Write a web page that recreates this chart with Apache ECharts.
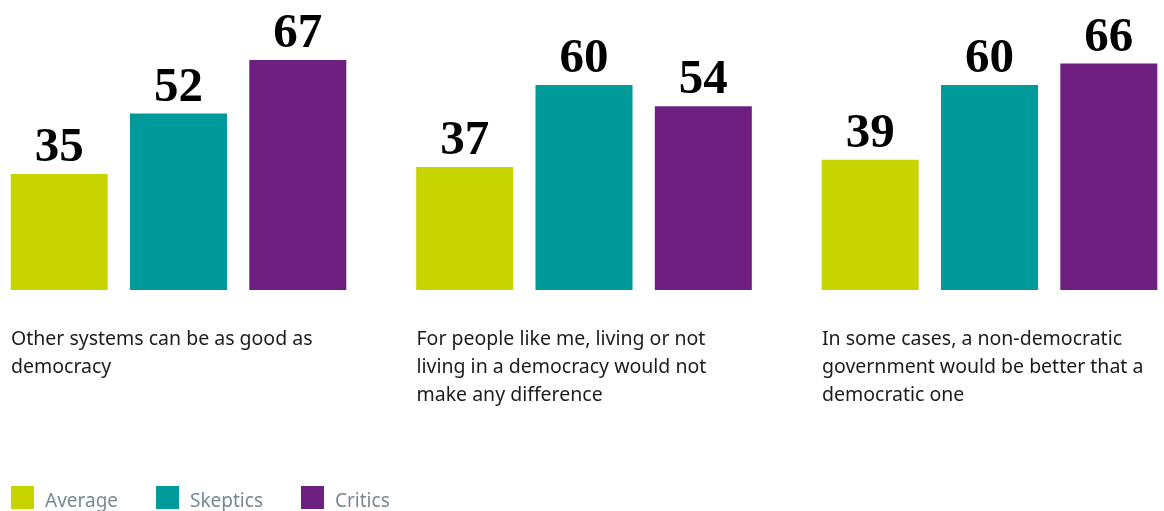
<!DOCTYPE html>
<html>
<head>
<meta charset="utf-8">
<script src="https://cdn.jsdelivr.net/npm/echarts@6/dist/echarts.min.js"></script>
<style>
  html, body { margin: 0; padding: 0; background: #fff; }
  #chart { width: 1164px; height: 511px; }
</style>
</head>
<body>
<div id="chart"></div>
<script>
// Statements shown under each group of bars
const statements = [
  'Other systems can be as good as\ndemocracy',
  'For people like me, living or not\nliving in a democracy would not\nmake any difference',
  'In some cases, a non-democratic\ngovernment would be better that a\ndemocratic one'
];

// Share of respondents who agree (%)
const averageValues  = [35, 37, 39];
const skepticsValues = [52, 60, 60];
const criticsValues  = [67, 54, 66];

const seriesNames  = ['Average', 'Skeptics', 'Critics'];
const seriesColors = ['#c8d400', '#009a9a', '#6e2080'];

const chart = echarts.init(document.getElementById('chart'), null, { renderer: 'canvas' });

const valueLabel = {
  show: true,
  position: 'top',
  distance: 1,
  color: '#000',
  fontFamily: '"Liberation Serif", serif',
  fontWeight: 'bold',
  fontSize: 49
};

function barSeries(name, values, color) {
  return {
    name: name,
    type: 'bar',
    data: values,
    barWidth: 97,
    barGap: '23%',
    clip: true,
    itemStyle: { color: color },
    label: valueLabel,
    emphasis: { disabled: true }
  };
}

const legendFont = {
  fontFamily: '"Noto Sans", sans-serif',
  fontSize: 19,
  color: '#7b8794',
  padding: [9, 0, 0, 6]
};

chart.setOption({
  animation: false,
  color: seriesColors,
  // group centres sit on the category points (boundaryGap off)
  grid: {
    left: 178.5,
    width: 811,
    top: 10,
    height: 280,
    containLabel: false
  },
  xAxis: {
    type: 'category',
    boundaryGap: false,
    data: statements,
    axisLine: { show: false },
    axisTick: { show: false },
    splitLine: { show: false },
    axisLabel: {
      margin: 35,
      interval: 0,
      formatter: function (v) {
        return v.split('\n').map(function (line) { return '{t|' + line + '}'; }).join('\n');
      },
      rich: {
        t: {
          width: 335,
          align: 'left',
          fontFamily: '"Noto Sans", sans-serif',
          fontSize: 19.5,
          lineHeight: 28,
          color: '#1c1c1c'
        }
      }
    }
  },
  yAxis: {
    type: 'value',
    min: 2.44,
    max: 81.04,
    show: false,
    splitLine: { show: false }
  },
  legend: {
    left: 11,
    top: 486,
    padding: 0,
    itemWidth: 23,
    itemHeight: 23,
    itemGap: 38,
    icon: 'rect',
    data: seriesNames,
    formatter: function (name) {
      return '{n|' + name + '}';
    },
    textStyle: {
      rich: {
        n: legendFont
      }
    }
  },
  series: [
    barSeries(seriesNames[0], averageValues, seriesColors[0]),
    barSeries(seriesNames[1], skepticsValues, seriesColors[1]),
    barSeries(seriesNames[2], criticsValues, seriesColors[2])
  ]
});
</script>
</body>
</html>
